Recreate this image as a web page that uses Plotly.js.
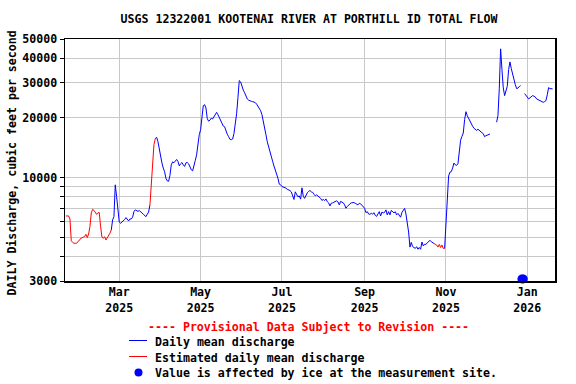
<!DOCTYPE html>
<html>
<head>
<meta charset="utf-8">
<script src="https://cdn.plot.ly/plotly-3.0.1.min.js"></script>
<style>html,body{margin:0;padding:0;background:#fff;}#chart{width:576px;height:384px;}</style>
</head>
<body>
<div id="chart"></div>
<script>
const dates = [
'2025-01-20','2025-01-21','2025-01-22','2025-01-23','2025-01-24','2025-01-25','2025-01-26','2025-01-27','2025-01-28','2025-01-29','2025-01-30','2025-01-31',
'2025-02-01','2025-02-02','2025-02-03','2025-02-04','2025-02-05','2025-02-06','2025-02-07','2025-02-08','2025-02-09','2025-02-10','2025-02-11','2025-02-12','2025-02-13','2025-02-14','2025-02-15','2025-02-16','2025-02-17','2025-02-18','2025-02-19','2025-02-20','2025-02-21','2025-02-22','2025-02-23','2025-02-24','2025-02-25','2025-02-26','2025-02-27','2025-02-28',
'2025-03-01','2025-03-02','2025-03-03','2025-03-04','2025-03-05','2025-03-06','2025-03-07','2025-03-08','2025-03-09','2025-03-10','2025-03-11','2025-03-12','2025-03-13','2025-03-14','2025-03-15','2025-03-16','2025-03-17','2025-03-18','2025-03-19','2025-03-20','2025-03-21','2025-03-22','2025-03-23','2025-03-24','2025-03-25','2025-03-26','2025-03-27','2025-03-28','2025-03-29','2025-03-30','2025-03-31',
'2025-04-01','2025-04-02','2025-04-03','2025-04-04','2025-04-05','2025-04-06','2025-04-07','2025-04-08','2025-04-09','2025-04-10','2025-04-11','2025-04-12','2025-04-13','2025-04-14','2025-04-15','2025-04-16','2025-04-17','2025-04-18','2025-04-19','2025-04-20','2025-04-21','2025-04-22','2025-04-23','2025-04-24','2025-04-25','2025-04-26','2025-04-27','2025-04-28','2025-04-29','2025-04-30',
'2025-05-01','2025-05-02','2025-05-03','2025-05-04','2025-05-05','2025-05-06','2025-05-07','2025-05-08','2025-05-09','2025-05-10','2025-05-11','2025-05-12','2025-05-13','2025-05-14','2025-05-15','2025-05-16','2025-05-17','2025-05-18','2025-05-19','2025-05-20','2025-05-21','2025-05-22','2025-05-23','2025-05-24','2025-05-25','2025-05-26','2025-05-27','2025-05-28','2025-05-29','2025-05-30','2025-05-31',
'2025-06-01','2025-06-02','2025-06-03','2025-06-04','2025-06-05','2025-06-06','2025-06-07','2025-06-08','2025-06-09','2025-06-10','2025-06-11','2025-06-12','2025-06-13','2025-06-14','2025-06-15','2025-06-16','2025-06-17','2025-06-18','2025-06-19','2025-06-20','2025-06-21','2025-06-22','2025-06-23','2025-06-24','2025-06-25','2025-06-26','2025-06-27','2025-06-28','2025-06-29','2025-06-30',
'2025-07-01','2025-07-02','2025-07-03','2025-07-04','2025-07-05','2025-07-06','2025-07-07','2025-07-08','2025-07-09','2025-07-10','2025-07-11','2025-07-12','2025-07-13','2025-07-14','2025-07-15','2025-07-16','2025-07-17','2025-07-18','2025-07-19','2025-07-20','2025-07-21','2025-07-22','2025-07-23','2025-07-24','2025-07-25','2025-07-26','2025-07-27','2025-07-28','2025-07-29','2025-07-30','2025-07-31',
'2025-08-01','2025-08-02','2025-08-03','2025-08-04','2025-08-05','2025-08-06','2025-08-07','2025-08-08','2025-08-09','2025-08-10','2025-08-11','2025-08-12','2025-08-13','2025-08-14','2025-08-15','2025-08-16','2025-08-17','2025-08-18','2025-08-19','2025-08-20','2025-08-21','2025-08-22','2025-08-23','2025-08-24','2025-08-25','2025-08-26','2025-08-27','2025-08-28','2025-08-29','2025-08-30','2025-08-31',
'2025-09-01','2025-09-02','2025-09-03','2025-09-04','2025-09-05','2025-09-06','2025-09-07','2025-09-08','2025-09-09','2025-09-10','2025-09-11','2025-09-12','2025-09-13','2025-09-14','2025-09-15','2025-09-16','2025-09-17','2025-09-18','2025-09-19','2025-09-20','2025-09-21','2025-09-22','2025-09-23','2025-09-24','2025-09-25','2025-09-26','2025-09-27','2025-09-28','2025-09-29','2025-09-30',
'2025-10-01','2025-10-02','2025-10-03','2025-10-04','2025-10-05','2025-10-06','2025-10-07','2025-10-08','2025-10-09','2025-10-10','2025-10-11','2025-10-12','2025-10-13','2025-10-14','2025-10-15','2025-10-16','2025-10-17','2025-10-18','2025-10-19','2025-10-20','2025-10-21','2025-10-22','2025-10-23','2025-10-24','2025-10-25','2025-10-26','2025-10-27','2025-10-28','2025-10-29','2025-10-30','2025-10-31',
'2025-11-01','2025-11-02','2025-11-03','2025-11-04','2025-11-05','2025-11-06','2025-11-07','2025-11-08','2025-11-09','2025-11-10','2025-11-11','2025-11-12','2025-11-13','2025-11-14','2025-11-15','2025-11-16','2025-11-17','2025-11-18','2025-11-19','2025-11-20','2025-11-21','2025-11-22','2025-11-23','2025-11-24','2025-11-25','2025-11-26','2025-11-27','2025-11-28','2025-11-29','2025-11-30',
'2025-12-01','2025-12-02','2025-12-03','2025-12-04','2025-12-05','2025-12-06','2025-12-07','2025-12-08','2025-12-09','2025-12-10','2025-12-11','2025-12-12','2025-12-13','2025-12-14','2025-12-15','2025-12-16','2025-12-17','2025-12-18','2025-12-19','2025-12-20','2025-12-21','2025-12-22','2025-12-23','2025-12-24','2025-12-25','2025-12-26','2025-12-27','2025-12-28','2025-12-29','2025-12-30','2025-12-31',
'2026-01-01','2026-01-02','2026-01-03','2026-01-04','2026-01-05','2026-01-06','2026-01-07','2026-01-08','2026-01-09','2026-01-10','2026-01-11','2026-01-12','2026-01-13','2026-01-14','2026-01-15','2026-01-16','2026-01-17','2026-01-18','2026-01-19','2026-01-20'
];

const flow = [
6390,6390,6390,6170,4790,4700,4650,4650,4650,4750,4800,4920,
4950,5000,5030,5160,4970,5180,5640,6620,6900,6820,6620,6510,6640,6640,5640,5000,4930,5020,4830,4960,5030,5230,5430,6100,6340,9180,8000,6990,
5950,5870,5950,6060,6130,6270,6100,6030,6170,6170,6300,6720,6860,6820,6740,6800,6740,6620,6520,6390,6340,6520,6690,7270,9180,11580,14650,15680,15960,15170,13800,
12720,11820,11150,10680,9900,9610,9560,10230,11580,11990,11860,12170,12320,12040,11440,11720,11900,11580,11360,11860,11900,11720,11190,10930,10800,11360,12170,13020,14970,16440,
17420,20750,23040,23310,22430,19800,19230,19460,19910,19730,20300,21000,21310,20750,19960,19460,18680,18180,18030,17080,16520,16060,15590,15500,15630,16630,18460,21000,25320,30830,30370,
28600,27600,26760,25730,24910,24560,24330,24230,24150,24060,23870,23450,22850,22430,21730,20750,18900,17420,16440,15140,14200,13330,12640,12070,11440,10930,10490,9900,9250,9180,
9000,8960,8900,8830,8710,8660,8590,8460,7980,7740,8460,8170,7980,8070,7770,8860,8030,7840,8170,8360,8510,8590,8460,8410,8230,8070,8170,8070,7980,7840,7650,
7750,7640,7790,7550,7440,7180,7410,7440,7520,7550,7620,7520,7270,7570,7520,7440,7270,6990,7130,7270,7360,7440,7470,7470,7400,7330,7270,7410,7360,7240,7100,
6980,6640,6720,6540,6510,6600,6520,6640,6430,6360,6540,6720,6390,6690,6620,6660,6860,6470,6720,6470,6820,6690,6620,6720,6470,6580,6390,6300,6660,6860,
6980,6540,5960,5300,4450,4700,4480,4450,4380,4470,4340,4430,4340,4720,4510,4600,4590,4680,4740,4810,4740,4670,4640,4610,4560,4450,4590,4430,4560,4380,4380,
5550,7700,10170,10630,10700,11150,11820,11580,11510,11720,13800,15420,16120,16760,19570,21480,20500,19800,19190,18560,18140,17720,17520,17280,17520,17210,17010,16820,16630,16060,
16250,16380,16500,16570,null,null,null,null,19010,20500,28000,44600,35050,28320,25890,27760,28850,35050,38300,35460,33000,30990,29420,28090,28230,28780,29090,null,null,26500,26080,
25470,24910,25150,25610,25890,25730,25470,24910,24710,24430,24230,24060,23950,24150,24430,26140,28420,28090,27990,27990
];

// Estimated-record periods (drawn red)
const estStart = ['2025-01-20', '2025-03-24', '2025-10-23'];
const estEnd   = ['2025-02-23', '2025-03-28', '2025-10-31'];

// Days with ice-affected values (plotted at the bottom of the axis)
const iceDates = ['2025-12-28', '2025-12-29'];
const iceLevel = [3075, 3075];

const yTickVals = [3000,4000,5000,6000,7000,8000,9000,10000,20000,30000,40000,50000];
const yTickText = ['3000','','','','','','','10000','20000','30000','40000','50000'];
const xTickVals = ['2025-03-01','2025-05-01','2025-07-01','2025-09-01','2025-11-01','2026-01-01'];
const xTickText = ['Mar<br>2025','May<br>2025','Jul<br>2025','Sep<br>2025','Nov<br>2025','Jan<br>2026'];

function inEst(d, inclusive) {
  for (let k = 0; k < estStart.length; k++) {
    if (inclusive ? (d >= estStart[k] && d <= estEnd[k]) : (d > estStart[k] && d < estEnd[k])) return true;
  }
  return false;
}
const blueY = flow.map((v, i) => inEst(dates[i], false) ? null : v);
const redY  = flow.map((v, i) => inEst(dates[i], true) ? v : null);

const FONT = 'DejaVu Sans Mono';
const fnt = (size, color) => ({family: FONT, size: size, color: color || '#000', weight: 'bold'});

const traces = [
  {x: dates, y: blueY, type: 'scatter', mode: 'lines', line: {color: '#0000ff', width: 1}, connectgaps: false, showlegend: false, hoverinfo: 'skip'},
  {x: dates, y: redY, type: 'scatter', mode: 'lines', line: {color: '#ff0000', width: 1}, connectgaps: false, showlegend: false, hoverinfo: 'skip'},
  {x: iceDates, y: iceLevel, type: 'scatter', mode: 'markers', marker: {color: '#0000ff', size: 9}, cliponaxis: false, showlegend: false, hoverinfo: 'skip'}
];

const W = 490, H = 242, L = 65, T = 39;
const px = x => (x - L) / W;
const py = y => (T + H - y) / H;

const layout = {
  width: 576, height: 384,
  margin: {l: L, r: 576 - L - W, t: T, b: 384 - T - H, pad: 0},
  paper_bgcolor: '#fff', plot_bgcolor: '#fff',
  showlegend: false,
  title: {text: 'USGS 12322001 KOOTENAI RIVER AT PORTHILL ID TOTAL FLOW', font: fnt(11.6), x: px(309), xref: 'paper', xanchor: 'center', y: 1 - 19/384, yanchor: 'middle'},
  xaxis: {
    type: 'date', range: ['2025-01-19 07:00', '2026-01-21 19:00'],
    tickmode: 'array', tickvals: xTickVals, ticktext: xTickText,
    showgrid: true, gridcolor: '#c8c8c8', gridwidth: 1,
    showline: true, linecolor: '#000', linewidth: 1.5, mirror: true,
    ticks: '', tickfont: fnt(11.6), zeroline: false, fixedrange: true
  },
  yaxis: {
    type: 'log', range: [Math.log10(3000), Math.log10(50000)],
    tickmode: 'array', tickvals: yTickVals, ticktext: yTickText,
    showgrid: true, gridcolor: '#c8c8c8', gridwidth: 1,
    showline: true, linecolor: '#000', linewidth: 1.5, mirror: true,
    ticks: 'outside', ticklen: 4, tickcolor: '#000', tickwidth: 1,
    tickfont: fnt(11.6), zeroline: false, fixedrange: true
  },
  annotations: [
    {text: 'DAILY Discharge, cubic feet per second', textangle: -90, xref: 'paper', yref: 'paper', x: px(11.5), y: py(163), xanchor: 'center', yanchor: 'middle', showarrow: false, font: fnt(11.6)},
    {text: '---- Provisional Data Subject to Revision ----', xref: 'paper', yref: 'paper', x: px(308), y: py(327), xanchor: 'center', yanchor: 'middle', showarrow: false, font: fnt(11.6, '#ff0000')},
    {text: 'Daily mean discharge', xref: 'paper', yref: 'paper', x: px(152.5), y: py(341.5), xanchor: 'left', yanchor: 'middle', showarrow: false, font: fnt(11.6)},
    {text: 'Estimated daily mean discharge', xref: 'paper', yref: 'paper', x: px(152.5), y: py(357.5), xanchor: 'left', yanchor: 'middle', showarrow: false, font: fnt(11.6)},
    {text: 'Value is affected by ice at the measurement site.', xref: 'paper', yref: 'paper', x: px(152.5), y: py(373), xanchor: 'left', yanchor: 'middle', showarrow: false, font: fnt(11.6)}
  ],
  shapes: [
    {type: 'line', xref: 'paper', yref: 'paper', x0: px(129), x1: px(147), y0: py(340.5), y1: py(340.5), line: {color: '#0000ff', width: 1}},
    {type: 'line', xref: 'paper', yref: 'paper', x0: px(129), x1: px(147), y0: py(356.5), y1: py(356.5), line: {color: '#ff0000', width: 1}},
    {type: 'circle', xref: 'paper', yref: 'paper', x0: px(134.5), x1: px(142.5), y0: py(376.5), y1: py(368.5), fillcolor: '#0000ff', line: {color: '#0000ff', width: 0}}
  ]
};

Plotly.newPlot('chart', traces, layout, {staticPlot: true, displayModeBar: false});
</script>
</body>
</html>
